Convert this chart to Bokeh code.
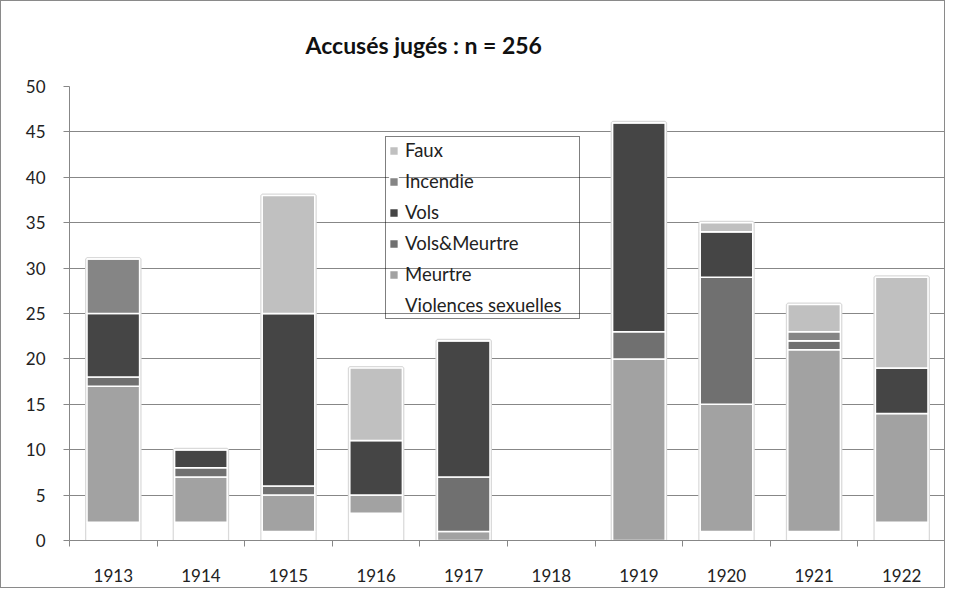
from bokeh.plotting import figure
from bokeh.models import FixedTicker, Legend, LegendItem, ColumnDataSource, Range1d, CDSView, BooleanFilter
from bokeh.embed import file_html
from bokeh.resources import INLINE

years = ["1913", "1914", "1915", "1916", "1917", "1918", "1919", "1920", "1921", "1922"]
violences_sexuelles = [2, 2, 1, 3, 0, 0, 0, 1, 1, 2]
meurtre = [15, 5, 4, 2, 1, 0, 20, 14, 20, 12]
vols_meurtre = [1, 1, 1, 0, 6, 0, 3, 14, 1, 0]
vols = [7, 2, 19, 6, 15, 0, 23, 5, 0, 5]
incendie = [6, 0, 0, 0, 0, 0, 0, 0, 1, 0]
faux = [0, 0, 13, 8, 0, 0, 0, 1, 3, 10]

series_names = ["Violences sexuelles", "Meurtre", "Vols&Meurtre", "Vols", "Incendie", "Faux"]
series_keys = ["vs", "meurtre", "vm", "vols", "incendie", "faux"]
colors = ["#ffffff", "#a2a2a2", "#707070", "#454545", "#858585", "#c0c0c0"]
y_ticks = [0, 5, 10, 15, 20, 25, 30, 35, 40, 45, 50]

xpos = list(range(1, len(years) + 1))
totals = [sum(v) for v in zip(violences_sexuelles, meurtre, vols_meurtre, vols, incendie, faux)]
src = ColumnDataSource(dict(x=xpos, vs=violences_sexuelles, meurtre=meurtre, vm=vols_meurtre,
                            vols=vols, incendie=incendie, faux=faux, total=totals))

FONT = "Lato"
GRID = "#878787"

p = figure(width=945, height=588, x_range=Range1d(0.5, len(years) + 0.5), y_range=Range1d(0, 50),
           output_backend="svg", toolbar_location=None,
           min_border_left=68, min_border_right=1, min_border_top=85, min_border_bottom=49)
p.styles = {"border": "1px solid #8a8a8a"}

# soft shadow around each non-empty column
shadow_view = CDSView(filter=BooleanFilter([t > 0 for t in totals]))
p.vbar(x="x", top="total", bottom=0, width=0.6, fill_color=None, line_color="#dadada",
       line_width=4, source=src, view=shadow_view)

renderers = p.vbar_stack(series_keys, x="x", width=0.6, fill_color=colors, line_color="white",
                         line_width=1.5, source=src)

items = [LegendItem(label=series_names[i], renderers=[renderers[i]]) for i in reversed(range(len(series_names)))]
legend = Legend(items=items, location=(316, 221), border_line_color="black", border_line_width=1,
                background_fill_alpha=0, label_text_font=FONT, label_text_font_size="18.5px",
                label_text_color="#222222", glyph_width=11, glyph_height=11, label_height=20,
                spacing=9, padding=2, margin=0, label_standoff=6, label_width=172)
p.add_layout(legend)

p.title.text = "Accusés jugés : n = 256"
p.title.text_font = FONT
p.title.text_font_style = "bold"
p.title.text_font_size = "23px"
p.title.text_color = "#111111"
p.title.align = "left"
p.title.offset = 236
p.title.standoff = 55

p.xgrid.grid_line_color = None
p.ygrid.grid_line_color = GRID
p.ygrid.ticker = FixedTicker(ticks=y_ticks)
p.outline_line_color = None

p.yaxis.ticker = FixedTicker(ticks=y_ticks)
p.yaxis.axis_line_color = GRID
p.yaxis.major_tick_line_color = GRID
p.yaxis.major_tick_out = 6
p.yaxis.major_tick_in = 0
p.yaxis.minor_tick_line_color = None
p.yaxis.major_label_standoff = 18
p.yaxis.major_label_text_font = FONT
p.yaxis.major_label_text_font_size = "17px"
p.yaxis.major_label_text_color = "#222222"

p.xaxis.ticker = FixedTicker(ticks=xpos, minor_ticks=[i + 0.5 for i in range(len(years) + 1)])
p.xaxis.major_label_overrides = {i: y for i, y in zip(xpos, years)}
p.xaxis.axis_line_color = GRID
p.xaxis.major_tick_line_color = None
p.xaxis.major_tick_out = 6
p.xaxis.major_tick_in = 0
p.xaxis.minor_tick_line_color = GRID
p.xaxis.minor_tick_out = 6
p.xaxis.minor_tick_in = 0
p.xaxis.major_label_standoff = 22
p.xaxis.major_label_text_font = FONT
p.xaxis.major_label_text_font_size = "17px"
p.xaxis.major_label_text_color = "#222222"

open("out.html", "w").write(file_html(p, INLINE))
